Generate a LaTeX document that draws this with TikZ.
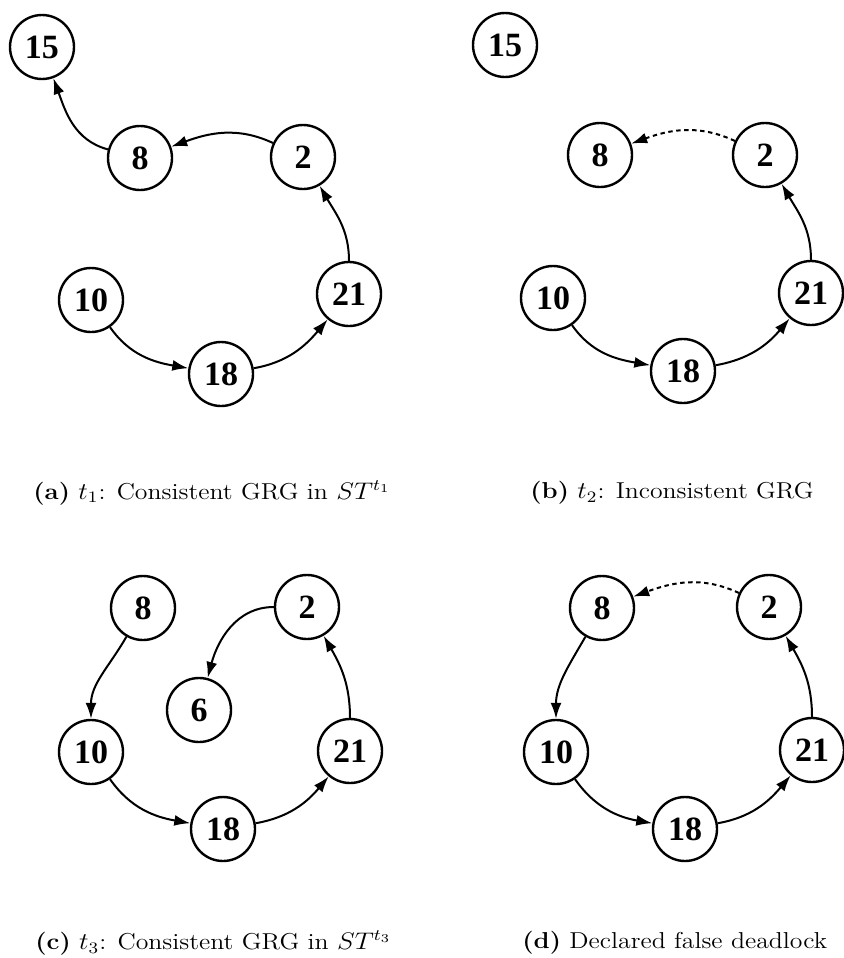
\documentclass[tikz,border=0pt]{standalone}
\usepackage{graphicx}
\usepackage{fontspec}
\newfontfamily\numfont{Liberation Serif}
\usetikzlibrary{arrows.meta}

% captions are set a little wide
\newcommand{\widecap}[1]{\scalebox{1.12}[1]{#1}}

\begin{document}
\begin{tikzpicture}[x=0.5pt, y=0.5pt,
  proc/.style={circle, draw, line width=1.2pt, minimum size=32pt, inner sep=0pt,
    font=\numfont\bfseries\fontsize{17}{17}\selectfont},
  wait/.style={line width=1pt, -{Latex[length=8pt,width=5.5pt]}},
  lost/.style={wait, dash pattern=on 2.2pt off 1.8pt},
  subcap/.style={anchor=west, inner sep=0pt, font=\fontsize{11.5}{13}\selectfont}]
  \useasboundingbox (0,0) rectangle (843,-958);

  % (a) time t1
  \node[proc] (a15) at (42,-47) {15};
  \node[proc] (a8) at (140,-158) {8};
  \node[proc] (a2) at (303,-157) {2};
  \node[proc] (a10) at (91,-300) {10};
  \node[proc] (a21) at (349,-294) {21};
  \node[proc] (a18) at (221,-374) {18};
  \draw[wait] (a8) to[out=165, in=-70] (a15);
  \draw[wait] (a2) to[out=155, in=20] (a8);
  \draw[wait] (a21) to[out=90, in=-60] (a2);
  \draw[wait] (a10) to[out=-55, in=170] (a18);
  \draw[wait] (a18) to[out=10, in=-130] (a21);
  \node[subcap] (capa) at (33,-493)
    {\widecap{\textbf{(a)} $t_1$: Consistent GRG in $ST^{t_1}$}};

  % (b) time t2
  \node[proc] (b15) at (505,-45) {15};
  \node[proc] (b8) at (600,-155) {8};
  \node[proc] (b2) at (765,-155) {2};
  \node[proc] (b10) at (553,-298) {10};
  \node[proc] (b21) at (811,-293) {21};
  \node[proc] (b18) at (683,-371) {18};
  \draw[lost] (b2) to[out=155, in=20] (b8);
  \draw[wait] (b21) to[out=90, in=-60] (b2);
  \draw[wait] (b10) to[out=-55, in=170] (b18);
  \draw[wait] (b18) to[out=10, in=-130] (b21);
  \node[subcap] (capb) at (530,-493)
    {\widecap{\textbf{(b)} $t_2$: Inconsistent GRG}};

  % (c) time t3
  \node[proc] (c8) at (143,-608) {8};
  \node[proc] (c2) at (307,-607) {2};
  \node[proc] (c6) at (199,-710) {6};
  \node[proc] (c10) at (91,-752) {10};
  \node[proc] (c21) at (350,-751) {21};
  \node[proc] (c18) at (223,-829) {18};
  \draw[wait] (c8) to[out=-120, in=90] (c10);
  \draw[wait] (c2) to[out=180, in=75] (c6);
  \draw[wait] (c21) to[out=90, in=-60] (c2);
  \draw[wait] (c10) to[out=-55, in=170] (c18);
  \draw[wait] (c18) to[out=10, in=-130] (c21);
  \node[subcap] (capc) at (35,-943)
    {\widecap{\textbf{(c)} $t_3$: Consistent GRG in $ST^{t_3}$}};

  % (d) false deadlock
  \node[proc] (d8) at (602,-608) {8};
  \node[proc] (d2) at (769,-607) {2};
  \node[proc] (d10) at (556,-752) {10};
  \node[proc] (d21) at (812,-750) {21};
  \node[proc] (d18) at (685,-829) {18};
  \draw[lost] (d2) to[out=155, in=20] (d8);
  \draw[wait] (d8) to[out=-120, in=90] (d10);
  \draw[wait] (d21) to[out=90, in=-60] (d2);
  \draw[wait] (d10) to[out=-55, in=170] (d18);
  \draw[wait] (d18) to[out=10, in=-130] (d21);
  \node[subcap] (capd) at (522,-943)
    {\widecap{\textbf{(d)} Declared false deadlock}};
\end{tikzpicture}
\end{document}
